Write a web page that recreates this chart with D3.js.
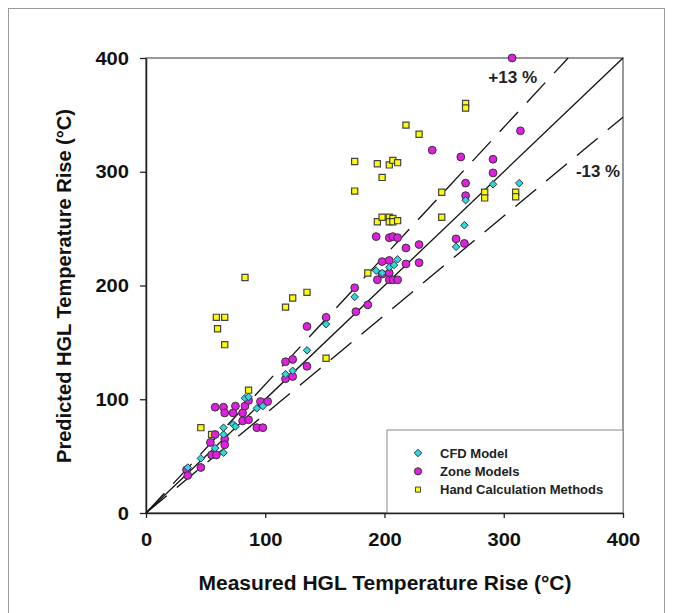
<!DOCTYPE html>
<html>
<head>
<meta charset="utf-8">
<script src="https://cdn.jsdelivr.net/npm/d3@7"></script>
<style>
  body { margin: 0; background: #fff; }
  text { font-family: Arial, "Liberation Sans", sans-serif; }
</style>
</head>
<body>
<div id="chart"></div>
<script>
// measured vs predicted HGL temperature rise (°C)
const cfdModel = [
  [35,40],[46,48],[58,57],[65,53],[65,69],[65,75],[73,78],[75,76],[83,101],[86,102],
  [93,92],[98,94],[117,122],[123,125],[135,143],[151,166],[175,190],[193,213],[198,211],
  [204,216],[208,218],[211,223],[260,234],[267,253],[268,275],[291,289],[313,290]
];
const zoneModels = [
  [34,38],[35,33],[46,40],[55,51],[59,51],[54,62],[66,65],[66,60],[58,69],[58,93],
  [65,93],[66,88],[73,88],[75,94],[81,88],[83,94],[81,81],[86,82],[86,99],[96,98],
  [102,98],[93,75],[98,75],[117,133],[123,135],[117,118],[123,120],[135,164],[135,129],
  [151,172],[175,198],[176,177],[186,183],[193,243],[204,242],[207,243],[211,242],
  [218,233],[229,236],[260,241],[267,237],[198,221],[204,222],[218,219],[229,220],
  [198,210],[204,211],[194,205],[204,205],[207,205],[211,205],[240,319],[264,313],
  [291,311],[291,299],[268,290],[268,279],[307,400],[314,336]
];
const handCalc = [
  [46,75],[55,69],[59,172],[66,172],[60,162],[66,148],[83,207],[86,108],[117,181],
  [123,189],[135,194],[151,136],[175,309],[175,283],[194,307],[198,295],[194,256],
  [198,260],[204,306],[207,310],[211,308],[204,260],[204,256],[207,259],[207,256],
  [211,257],[186,211],[218,341],[229,333],[248,282],[248,260],[268,360],[268,356],
  [284,282],[284,277],[310,282],[310,278]
];
const ticks = [0, 100, 200, 300, 400];
const legendNames = ["CFD Model", "Zone Models", "Hand Calculation Methods"];
const bandFactors = [1, 1.13, 0.87];

const margin = {top: 58, right: 50, bottom: 100, left: 146},
    width = 673 - margin.left - margin.right,
    height = 613 - margin.top - margin.bottom;

const root = d3.select("#chart")
  .append("svg")
    .attr("width", 673)
    .attr("height", 613);

// outer frame of the figure
root.append("rect")
  .attr("x", 8.5).attr("y", 8.5)
  .attr("width", 656).attr("height", 620)
  .attr("fill", "none")
  .attr("stroke", "#999")
  .attr("stroke-width", 1);

const svg = root.append("g")
    .attr("transform", `translate(${margin.left},${margin.top})`);

const x = d3.scaleLinear().domain([0, 400]).range([0, width]);
const y = d3.scaleLinear().domain([0, 400]).range([height, 0]);

// box around the plot
svg.append("rect")
  .attr("width", width).attr("height", height)
  .attr("fill", "none")
  .attr("stroke", "#555")
  .attr("stroke-width", 1.2);

// legend box (drawn under the points)
const legend = svg.append("g")
  .attr("transform", `translate(${x(400) - 236},${y(0) - 83})`);
legend.append("rect")
  .attr("width", 236).attr("height", 83)
  .attr("fill", "#fff")
  .attr("stroke", "#888")
  .attr("stroke-width", 1);

// reference lines: y = x, +13 %, -13 %
const line = d3.line().x(d => x(d[0])).y(d => y(d[1]));
bandFactors.forEach(f => {
  const xEnd = Math.min(400, 400 / f);
  svg.append("path")
    .attr("d", line([[0, 0], [xEnd, xEnd * f]]))
    .attr("fill", "none")
    .attr("stroke", "#111")
    .attr("stroke-width", 1.3)
    .attr("stroke-dasharray", f === 1 ? null : "27,13");
});

svg.append("text")
  .attr("x", x(287)).attr("y", y(378))
  .attr("font-size", "17px").attr("font-weight", "bold").attr("fill", "#222")
  .attr("textLength", 49).attr("lengthAdjust", "spacingAndGlyphs")
  .text("+13 %");
svg.append("text")
  .attr("x", x(400) - 3).attr("y", y(295))
  .attr("text-anchor", "end")
  .attr("font-size", "17px").attr("font-weight", "bold").attr("fill", "#222")
  .attr("textLength", 44).attr("lengthAdjust", "spacingAndGlyphs")
  .text("-13 %");

// axes
const xAxis = svg.append("g")
  .attr("transform", `translate(0,${height})`)
  .call(d3.axisBottom(x).tickValues(ticks).tickSize(5).tickSizeOuter(0).tickPadding(15));
const yAxis = svg.append("g")
  .call(d3.axisLeft(y).tickValues(ticks).tickSize(6).tickSizeOuter(0).tickPadding(11));
[xAxis, yAxis].forEach(a => {
  a.select(".domain").attr("stroke", "#222").attr("stroke-width", 1.5);
  a.selectAll(".tick line").attr("stroke", "#222").attr("stroke-width", 1.3);
  a.selectAll(".tick text")
    .attr("font-size", "19px")
    .attr("font-weight", "bold")
    .attr("font-family", "Arial, 'Liberation Sans', sans-serif")
    .attr("fill", "#111")
    .attr("textLength", d => String(d).length * 11.2)
    .attr("lengthAdjust", "spacingAndGlyphs");
});

// axis titles
root.append("text")
  .attr("x", 385).attr("y", 590)
  .attr("text-anchor", "middle")
  .attr("font-size", "20px").attr("font-weight", "bold").attr("fill", "#111")
  .attr("textLength", 373).attr("lengthAdjust", "spacingAndGlyphs")
  .text("Measured HGL Temperature Rise (°C)");
root.append("text")
  .attr("transform", "translate(71,286) rotate(-90)")
  .attr("text-anchor", "middle")
  .attr("font-size", "20px").attr("font-weight", "bold").attr("fill", "#111")
  .attr("textLength", 354).attr("lengthAdjust", "spacingAndGlyphs")
  .text("Predicted HGL Temperature Rise (°C)");

// markers
const diamond = d3.symbol().type(d3.symbolDiamond2).size(36);
const square = d3.symbol().type(d3.symbolSquare).size(38);

svg.append("g")
  .selectAll("path")
  .data(handCalc)
  .join("path")
    .attr("transform", d => `translate(${x(d[0])},${y(d[1])})`)
    .attr("d", square)
    .attr("fill", "#ffff00")
    .attr("stroke", "#444")
    .attr("stroke-width", 1.2);

svg.append("g")
  .selectAll("circle")
  .data(zoneModels)
  .join("circle")
    .attr("cx", d => x(d[0]))
    .attr("cy", d => y(d[1]))
    .attr("r", 3.9)
    .attr("fill", "#e020e0")
    .attr("stroke", "#333")
    .attr("stroke-width", 1);

svg.append("g")
  .selectAll("path")
  .data(cfdModel)
  .join("path")
    .attr("transform", d => `translate(${x(d[0])},${y(d[1])})`)
    .attr("d", diamond)
    .attr("fill", "#30d8d8")
    .attr("stroke", "#335")
    .attr("stroke-width", 1);

// legend entries
const legendRows = legend.selectAll("g.row")
  .data(legendNames)
  .join("g")
    .attr("class", "row")
    .attr("transform", (d, i) => `translate(31,${23 + i * 18.3})`);
legendRows.each(function(d, i) {
  const g = d3.select(this);
  if (i === 0) {
    g.append("path").attr("d", diamond).attr("fill", "#30d8d8").attr("stroke", "#335");
  } else if (i === 1) {
    g.append("circle").attr("r", 3.6).attr("fill", "#e020e0").attr("stroke", "#333");
  } else {
    g.append("path").attr("d", d3.symbol().type(d3.symbolSquare).size(26))
      .attr("fill", "#ffff00").attr("stroke", "#444");
  }
  g.append("text")
    .attr("x", 22).attr("y", 4.5)
    .attr("font-size", "13px").attr("font-weight", "bold").attr("fill", "#222")
    .text(d);
});
</script>
</body>
</html>
